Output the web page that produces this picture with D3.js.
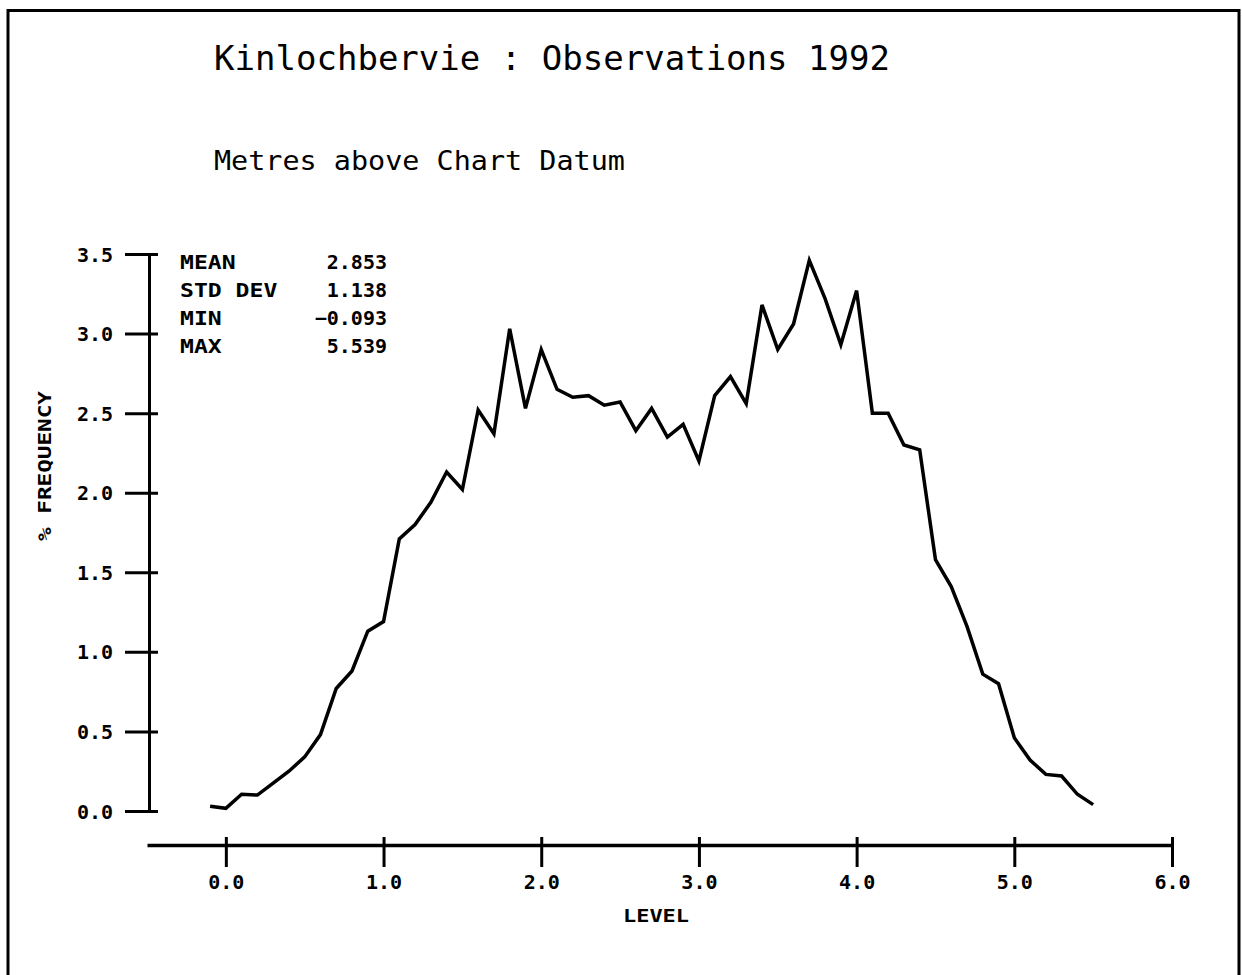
<!DOCTYPE html>
<html>
<head>
<meta charset="utf-8">
<script src="https://cdn.jsdelivr.net/npm/d3@7"></script>
<style>
  html, body { margin: 0; padding: 0; background: #fff; }
  svg { display: block; }
</style>
</head>
<body>
<svg id="chart" width="1242" height="975"></svg>
<script>
// ---- data ----
const levels = [-0.1, 0.0, 0.1, 0.2, 0.3, 0.4, 0.5, 0.6, 0.7, 0.8, 0.9,
  1.0, 1.1, 1.2, 1.3, 1.4, 1.5, 1.6, 1.7, 1.8, 1.9,
  2.0, 2.1, 2.2, 2.3, 2.4, 2.5, 2.6, 2.7, 2.8, 2.9,
  3.0, 3.1, 3.2, 3.3, 3.4, 3.5, 3.6, 3.7, 3.8, 3.9,
  4.0, 4.1, 4.2, 4.3, 4.4, 4.5, 4.6, 4.7, 4.8, 4.9,
  5.0, 5.1, 5.2, 5.3, 5.4, 5.5];
const frequency = [0.03, 0.017, 0.105, 0.10, 0.175, 0.25, 0.34, 0.48, 0.77, 0.88, 1.13,
  1.19, 1.71, 1.80, 1.94, 2.13, 2.02, 2.52, 2.37, 3.03, 2.53,
  2.90, 2.65, 2.60, 2.61, 2.55, 2.57, 2.39, 2.53, 2.35, 2.43,
  2.20, 2.61, 2.73, 2.56, 3.18, 2.90, 3.06, 3.46, 3.22, 2.93,
  3.27, 2.50, 2.50, 2.30, 2.27, 1.58, 1.41, 1.16, 0.86, 0.80,
  0.46, 0.32, 0.23, 0.22, 0.105, 0.04];
const xTicks = [0, 1, 2, 3, 4, 5, 6];
const yTicks = [0, 0.5, 1.0, 1.5, 2.0, 2.5, 3.0, 3.5];
const statLabels = ["MEAN", "STD DEV", "MIN", "MAX"];
const statValues = ["2.853", "1.138", "\u22120.093", "5.539"];
const titleText = "Kinlochbervie : Observations 1992";
const subtitleText = "Metres above Chart Datum";
const xLabelText = "LEVEL";
const yLabelText = "% FREQUENCY";

// ---- drawing ----
const svg = d3.select("#chart");
const plotFont = "'DejaVu Sans Mono', 'Liberation Mono', monospace";

// frame
svg.append("path")
  .attr("d", "M8,980 L8,10.5 L1239,10.5 L1239,980")
  .attr("fill", "none").attr("stroke", "#000").attr("stroke-width", 3);

const x = d3.scaleLinear().domain([-0.5, 6]).range([147, 1172]);
const y = d3.scaleLinear().domain([0, 3.5]).range([811, 254]);

// titles
svg.append("text").attr("x", 214).attr("y", 70)
  .attr("font-family", plotFont).attr("font-size", 34)
  .attr("textLength", 676).attr("lengthAdjust", "spacingAndGlyphs")
  .text(titleText);
svg.append("text").attr("x", 214).attr("y", 170)
  .attr("font-family", plotFont).attr("font-size", 27)
  .attr("textLength", 411).attr("lengthAdjust", "spacingAndGlyphs")
  .text(subtitleText);

// x axis
const xAxisY = 845;
const gx = svg.append("g").attr("transform", `translate(0,${xAxisY})`)
  .call(d3.axisBottom(x).tickValues(xTicks).tickFormat(d3.format(".1f"))
    .tickSizeOuter(0).tickSizeInner(22).tickPadding(16));
gx.select(".domain").attr("stroke", "#000").attr("stroke-width", 3.5);
gx.selectAll(".tick line").attr("y1", -8).attr("y2", 22)
  .attr("stroke", "#000").attr("stroke-width", 3);
gx.selectAll(".tick text").attr("font-family", plotFont)
  .attr("font-weight", "bold").attr("font-size", 20).attr("fill", "#000")
  .attr("dy", "0.3em");

// y axis
const yAxisX = 149;
const gy = svg.append("g").attr("transform", `translate(${yAxisX},0)`)
  .call(d3.axisLeft(y).tickValues(yTicks).tickFormat(d3.format(".1f"))
    .tickSizeOuter(0).tickSizeInner(24).tickPadding(12));
gy.select(".domain").attr("stroke", "#000").attr("stroke-width", 3);
gy.selectAll(".tick line").attr("x1", 9).attr("x2", -24)
  .attr("stroke", "#000").attr("stroke-width", 3);
gy.selectAll(".tick text").attr("font-family", plotFont)
  .attr("font-weight", "bold").attr("font-size", 20).attr("fill", "#000")
  .attr("dy", "0.35em");

// axis titles
svg.append("text").attr("x", 656).attr("y", 922)
  .attr("text-anchor", "middle").attr("font-family", plotFont)
  .attr("font-weight", "bold").attr("font-size", 18)
  .attr("textLength", 66).attr("lengthAdjust", "spacingAndGlyphs")
  .text(xLabelText);
svg.append("text")
  .attr("transform", "translate(51,466) rotate(-90)")
  .attr("text-anchor", "middle").attr("font-family", plotFont)
  .attr("font-weight", "bold").attr("font-size", 17)
  .attr("textLength", 150).attr("lengthAdjust", "spacingAndGlyphs")
  .text(yLabelText);

// stats block
const statRowY = [262, 290, 318, 346];
const gs = svg.append("g").attr("font-family", plotFont)
  .attr("font-weight", "bold").attr("font-size", 20);
statLabels.forEach((s, i) => {
  gs.append("text").attr("x", 180).attr("y", statRowY[i]).attr("dy", "0.35em")
    .attr("textLength", s.length * 13.9).attr("lengthAdjust", "spacingAndGlyphs")
    .text(s);
  gs.append("text").attr("x", 387).attr("y", statRowY[i]).attr("dy", "0.35em")
    .attr("text-anchor", "end").text(statValues[i]);
});

// curve
const line = d3.line().x((d, i) => x(levels[i])).y(d => y(d));
svg.append("path").datum(frequency)
  .attr("d", line).attr("fill", "none")
  .attr("stroke", "#000").attr("stroke-width", 3.5)
  .attr("stroke-linejoin", "miter");
</script>
</body>
</html>
